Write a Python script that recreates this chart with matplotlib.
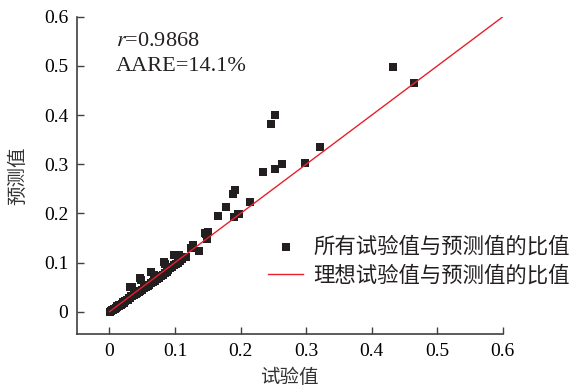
import matplotlib
matplotlib.use('Agg')
import matplotlib.pyplot as plt

plt.rcParams['mathtext.fontset'] = 'stix'

# 试验值 / 预测值
shiyan = [0.001, 0.002, 0.003, 0.004, 0.005, 0.006, 0.007, 0.008, 0.010, 0.011,
          0.012, 0.014, 0.015, 0.017, 0.019, 0.020, 0.022, 0.024, 0.026, 0.028,
          0.030, 0.032, 0.033, 0.035, 0.037, 0.040, 0.042, 0.045, 0.047, 0.050,
          0.052, 0.055, 0.058, 0.060, 0.063, 0.066, 0.069, 0.072, 0.075, 0.078,
          0.081, 0.084, 0.087, 0.090, 0.093, 0.096, 0.099, 0.102, 0.105, 0.108,
          0.111, 0.047, 0.063, 0.083, 0.098, 0.032, 0.068, 0.048, 0.035, 0.084,
          0.106, 0.116, 0.124, 0.128, 0.136, 0.145, 0.147, 0.149, 0.150, 0.166,
          0.177, 0.189, 0.190, 0.192, 0.196, 0.197, 0.215, 0.234, 0.247, 0.252,
          0.253, 0.263, 0.298, 0.321, 0.432, 0.464]
yuce = [0.000, 0.002, 0.001, 0.003, 0.004, 0.004, 0.006, 0.006, 0.008, 0.009,
        0.012, 0.011, 0.014, 0.014, 0.016, 0.019, 0.018, 0.021, 0.023, 0.024,
        0.027, 0.028, 0.031, 0.031, 0.034, 0.036, 0.038, 0.040, 0.043, 0.045,
        0.048, 0.050, 0.053, 0.055, 0.058, 0.061, 0.063, 0.067, 0.069, 0.073,
        0.075, 0.079, 0.081, 0.085, 0.088, 0.090, 0.094, 0.097, 0.100, 0.104,
        0.107, 0.068, 0.081, 0.102, 0.115, 0.051, 0.075, 0.064, 0.050, 0.098,
        0.115, 0.112, 0.129, 0.136, 0.124, 0.160, 0.158, 0.147, 0.162, 0.194,
        0.214, 0.239, 0.192, 0.247, 0.199, 0.198, 0.224, 0.284, 0.381, 0.290,
        0.400, 0.300, 0.302, 0.335, 0.497, 0.465]

ideal = [0, 0.6]
ticks = [0, 0.1, 0.2, 0.3, 0.4, 0.5, 0.6]
tick_labels = ['0', '0.1', '0.2', '0.3', '0.4', '0.5', '0.6']

serif = ['Liberation Serif', 'Noto Sans CJK SC']
cjk = ['Noto Sans CJK SC', 'DejaVu Sans']

fig = plt.figure(figsize=(5.7, 3.91), dpi=100)
ax = fig.add_axes([0.1346, 0.145, 0.7475, 0.812])

ax.scatter(shiyan, yuce, marker='s', s=28, color='#231f20', linewidths=0,
           label='所有试验值与预测值的比值', zorder=2)
ax.plot(ideal, ideal, color='#e8202a', lw=1.0, label='理想试验值与预测值的比值', zorder=3)

ax.set_xlim(-0.05, 0.6)
ax.set_ylim(-0.046, 0.6)
ax.set_xticks(ticks)
ax.set_yticks(ticks)
ax.set_xticklabels(tick_labels, family=serif, fontsize=14)
ax.set_yticklabels(tick_labels, family=serif, fontsize=14)
ax.tick_params(direction='in', length=5, width=1, color='#404040', pad=6)

for s in ['top', 'right']:
    ax.spines[s].set_visible(False)
for s in ['left', 'bottom']:
    ax.spines[s].set_color('#404040')
    ax.spines[s].set_linewidth(1.2)

ax.set_xlabel('试验值', family=cjk, fontsize=14, color='#333333', labelpad=5)
ax.set_ylabel('预测值', family=cjk, fontsize=14, color='#333333', labelpad=11)

ax.text(0.01, 0.54, r'$r$=0.9868', family=serif, fontsize=16, color='#231f20')
ax.text(0.01, 0.49, 'AARE=14.1%', family=serif, fontsize=16, color='#231f20')

leg = ax.legend(loc='center left', bbox_to_anchor=(0.45, 0.231), frameon=False,
                prop={'family': cjk, 'size': 15.4}, handlelength=1.6,
                handletextpad=0.5, labelspacing=0.33, borderpad=0,
                borderaxespad=0)
for t in leg.get_texts():
    t.set_color('#231f20')

fig.savefig('out.png', dpi=100)
